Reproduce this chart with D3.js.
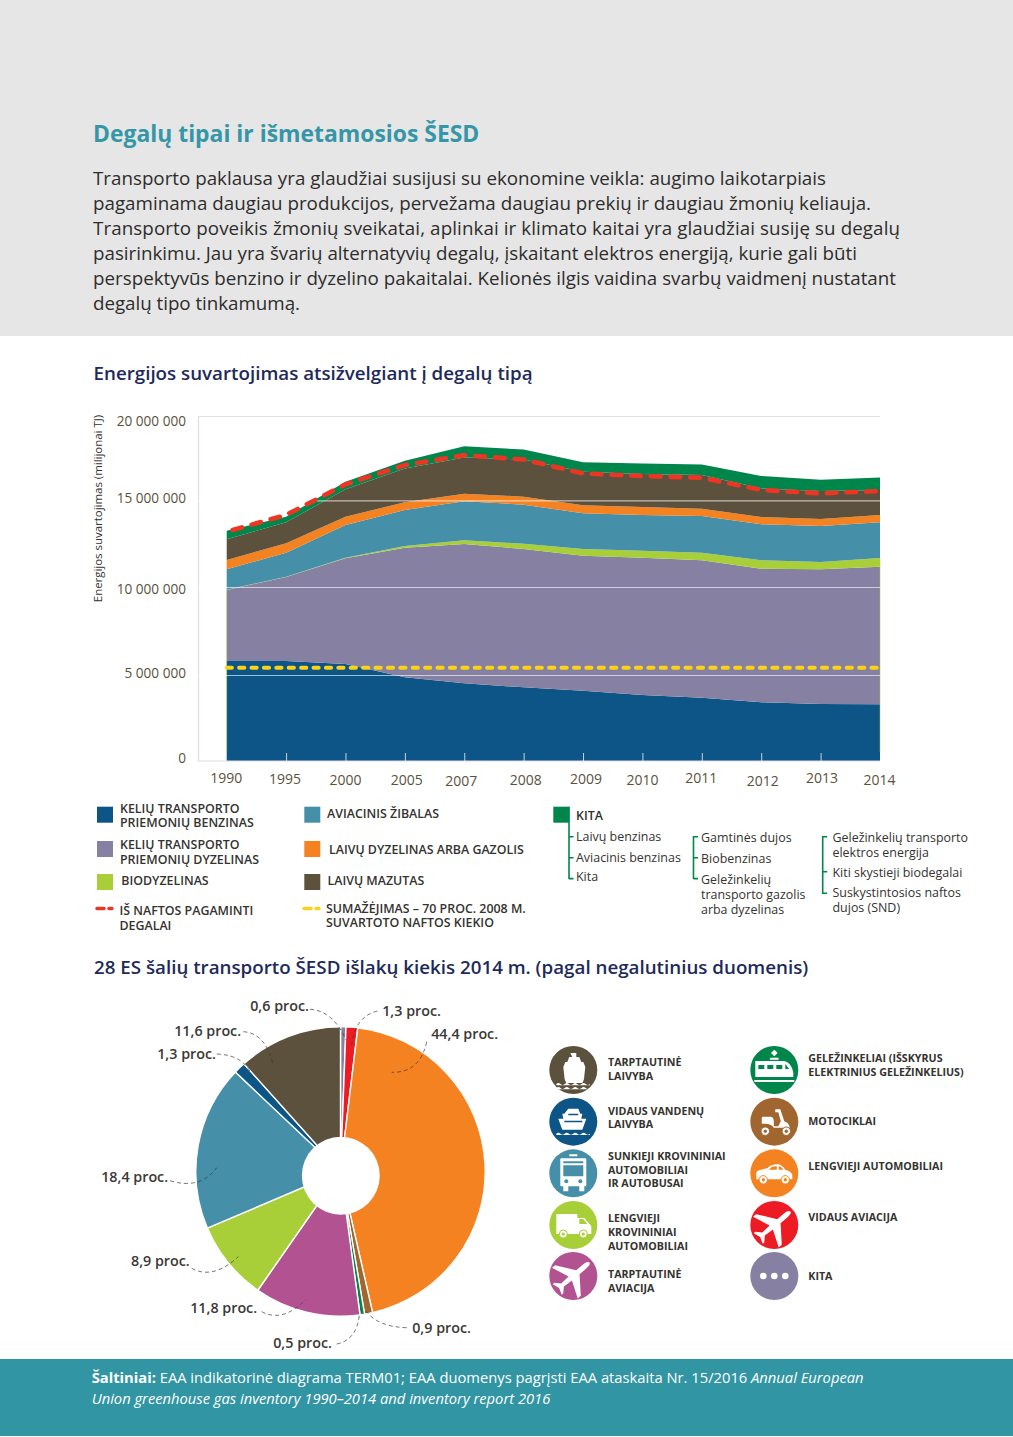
<!DOCTYPE html>
<html lang="lt">
<head>
<meta charset="utf-8">
<title>Degalų tipai ir išmetamosios ŠESD</title>
<script src="https://cdn.jsdelivr.net/npm/d3@7/dist/d3.min.js"></script>
<style>
html,body{margin:0;padding:0;background:#fff}
svg{display:block}
text{font-family:"Open Sans","Noto Sans",sans-serif}
</style>
</head>
<body>
<svg id="page" width="1013" height="1437" viewBox="0 0 1013 1437"></svg>
<script>
// ---------- chart data ----------
const years = ["1990","1995","2000","2005","2007","2008","2009","2010","2011","2012","2013","2014"];
const benzinas   = [5795000,5795000,5625000,4864000,4516000,4283000,4089000,3837000,3682000,3411000,3314000,3295000];
const dyzelinas  = [4035000,4782000,6029000,7405000,7965000,7909000,7719000,7855000,7856000,7647000,7705000,7878000];
const biodyzel   = [18000,19000,38000,96000,211000,308000,384000,404000,443000,480000,423000,500000];
const zibalas    = [1171000,1385000,1885000,2077000,2250000,2250000,2058000,2058000,2115000,2077000,2077000,2058000];
const laivuDyz   = [539000,538000,481000,443000,452000,467000,462000,461000,423000,423000,404000,423000];
const mazutas    = [1192000,1212000,1592000,2005000,2145000,2204000,1981000,1940000,1977000,1671000,1628000,1456000];
const kita       = [500000,327000,452000,453000,670000,591000,571000,630000,630000,728000,669000,748000];
const naftosDegalai = [13288000,14154000,15945000,17087000,17677000,17421000,16594000,16437000,16339000,15610000,15413000,15551000];
const sumazejimas   = [5417000,5417000,5417000,5417000,5417000,5417000,5417000,5417000,5417000,5417000,5417000,5417000];
const yTicks = [0,5000000,10000000,15000000,20000000];

const pieValues = [0.6,1.3,44.4,0.9,0.5,11.8,8.9,18.4,1.3,11.6];
const pieLabels = ["0,6 proc.","1,3 proc.","44,4 proc.","0,9 proc.","0,5 proc.","11,8 proc.","8,9 proc.","18,4 proc.","1,3 proc.","11,6 proc."];

// ---------- colours ----------
const C = {blue:"#0d5586",lav:"#8681a2",lime:"#a9cf38",teal:"#468fa8",orange:"#f58220",brown:"#5c513d",
           green:"#00864a",red:"#ee3524",yellow:"#fcd116",mag:"#b35290",rust:"#a1662f",pieRed:"#ed1c24",
           ink:"#333230",axis:"#5c513d",navy:"#1e2a5a",tealH:"#3496a6",band:"#3295a3"};
const areaColors = [C.blue,C.lav,C.lime,C.teal,C.orange,C.brown,C.green];
const pieColors  = [C.lav,C.pieRed,C.orange,C.rust,C.green,C.mag,C.lime,C.teal,C.blue,C.brown];

const svg = d3.select("#page");
function T(g,x,y,s,o={}){
  const t=g.append("text").attr("x",x).attr("y",y).text(s)
   .attr("font-size",o.size||13).attr("fill",o.fill||C.ink).attr("font-weight",o.weight||400);
  if(o.anchor)t.attr("text-anchor",o.anchor);
  return t;
}

// ---------- header ----------
svg.append("rect").attr("width",1013).attr("height",336).attr("fill","#e6e6e6");
T(svg,93,142,"Degalų tipai ir išmetamosios ŠESD",{size:22.9,fill:C.tealH,weight:700});
const intro=["Transporto paklausa yra glaudžiai susijusi su ekonomine veikla: augimo laikotarpiais",
"pagaminama daugiau produkcijos, pervežama daugiau prekių ir daugiau žmonių keliauja.",
"Transporto poveikis žmonių sveikatai, aplinkai ir klimato kaitai yra glaudžiai susiję su degalų",
"pasirinkimu. Jau yra švarių alternatyvių degalų, įskaitant elektros energiją, kurie gali būti",
"perspektyvūs benzino ir dyzelino pakaitalai. Kelionės ilgis vaidina svarbų vaidmenį nustatant",
"degalų tipo tinkamumą."];
const introWidth=[733,778,807,764,803,207];
intro.forEach((l,i)=>T(svg,93,185+i*25,l,{size:18.77,fill:"#2e2d2c"}).attr("textLength",introWidth[i]));
T(svg,93.5,380,"Energijos suvartojimas atsižvelgiant į degalų tipą",{size:18.75,fill:C.navy,weight:600});

// ---------- stacked area ----------
const x=d3.scalePoint().domain(years).range([226.7,880]);
// the printed axis is slightly uneven, so the scale follows its gridlines
const y=d3.scaleLinear().domain(yTicks).range([761,675,587,500.3,416]);
const rows=years.map((yr,i)=>({yr,a:benzinas[i],b:dyzelinas[i],c:biodyzel[i],d:zibalas[i],e:laivuDyz[i],f:mazutas[i],g:kita[i]}));
const series=d3.stack().keys(["a","b","c","d","e","f","g"])(rows);
const area=d3.area().x(d=>x(d.data.yr)).y0(d=>y(d[0])).y1(d=>y(d[1]));
const plot=svg.append("g");
plot.selectAll("path.layer").data(series).join("path").attr("class","layer")
  .attr("d",area).attr("fill",(d,i)=>areaColors[i]);
// thin olive edge on both ends of the stack
[years[0],years[years.length-1]].forEach(yr=>{
  const top=series[2].find(d=>d.data.yr===yr);
  plot.append("line").attr("x1",x(yr)).attr("x2",x(yr)).attr("y1",y(top[1])).attr("y2",752)
    .attr("stroke",C.lime).attr("stroke-width",0.7).attr("opacity",.7);
});
// gridlines on top of the areas
const yDy=[-4,-3,1,-3,4];
const yAxis=d3.axisLeft(y).tickValues(yTicks).tickSize(0).tickPadding(12)
  .tickFormat(v=>d3.format(",")(v).replace(/,/g," "));
const gy=svg.append("g").attr("transform","translate(198,0)").call(yAxis);
gy.select(".domain").attr("stroke","#dddbe8").attr("stroke-width",1.2);
gy.selectAll(".tick text").attr("font-size",13.6).attr("fill",C.axis)
  .attr("font-family","'Open Sans',sans-serif")
  .attr("dy",(d,i)=>(yDy[i]+5)+"px");
gy.selectAll(".tick line").attr("x1",0).attr("x2",682).attr("stroke","#ffffff")
  .attr("stroke-opacity",d=>d===0?0:.62).attr("stroke-width",1.2);
gy.selectAll(".tick").filter(d=>d===20000000).select("line").attr("stroke","#e2e0ec").attr("stroke-opacity",1);

const xDx=[-1,-1.5,-0.5,1.5,-3.5,1.5,2.5,-0.5,-1,1,1,-1];
const xDy=[0,1,2,2,3,2,1,2,0,3,0,2];
const xAxis=d3.axisBottom(x).tickSize(0).tickPadding(0);
const gx=svg.append("g").attr("transform","translate(0,761)").call(xAxis);
gx.select(".domain").attr("d","M198,0H880").attr("stroke","#dddbe8").attr("stroke-width",1.2);
gx.selectAll(".tick text").attr("font-size",14).attr("fill",C.axis)
  .attr("font-family","'Open Sans',sans-serif")
  .attr("x",(d,i)=>xDx[i]).attr("y",(d,i)=>12+xDy[i]).attr("dy","0.71em");
gx.selectAll(".tick line").attr("y1",-8).attr("y2",0).attr("stroke","#ffffff").attr("stroke-opacity",.75).attr("stroke-width",1)
  .filter((d,i)=>i===0).attr("stroke-opacity",0);

const ln=d3.line().x((d,i)=>x(years[i])).y(d=>y(d));
svg.append("path").attr("d",ln(sumazejimas)).attr("fill","none").attr("stroke",C.yellow)
  .attr("stroke-width",4).attr("stroke-linecap","round").attr("stroke-dasharray","5.2 7.2");
svg.append("path").attr("d",d3.line().x((d,i)=>i===0?x(years[0])+6:x(years[i])).y(d=>y(d))(naftosDegalai))
  .attr("fill","none").attr("stroke",C.red)
  .attr("stroke-width",4.6).attr("stroke-linecap","round").attr("stroke-dasharray","9.5 10.2");
T(svg,0,0,"Energijos suvartojimas (milijonai TJ)",{size:11.45,fill:C.ink,anchor:"middle"})
  .attr("transform","translate(102,508.5) rotate(-90)");

// ---------- legend ----------
const lg=svg.append("g");
const sw=(xp,yp,c)=>lg.append("rect").attr("x",xp).attr("y",yp).attr("width",16).attr("height",16).attr("fill",c);
const LB={size:12.4,weight:600,fill:"#35332f"};
sw(97,806.7,C.blue); T(lg,120,813,"KELIŲ TRANSPORTO",LB); T(lg,120,827,"PRIEMONIŲ BENZINAS",LB);
sw(97,841,C.lav);    T(lg,120,849,"KELIŲ TRANSPORTO",LB); T(lg,120,864,"PRIEMONIŲ DYZELINAS",LB);
sw(97,874,C.lime);   T(lg,121.3,885,"BIODYZELINAS",LB);
sw(304.3,806.7,C.teal); T(lg,327,818,"AVIACINIS ŽIBALAS",LB);
sw(304.3,841,C.orange); T(lg,329,854,"LAIVŲ DYZELINAS ARBA GAZOLIS",LB);
sw(304.3,874,C.brown);  T(lg,327.5,885,"LAIVŲ MAZUTAS",LB);
const dash=(x1,x2,yp,c)=>lg.append("line").attr("x1",x1).attr("x2",x2).attr("y1",yp).attr("y2",yp)
  .attr("stroke",c).attr("stroke-width",3.4).attr("stroke-linecap","round");
dash(97,104,908.5,C.red); dash(109,112,908.5,C.red);
dash(304,311,908.5,C.yellow); dash(316,319,908.5,C.yellow);
T(lg,119.5,915.3,"IŠ NAFTOS PAGAMINTI",LB); T(lg,119.5,930,"DEGALAI",LB);
T(lg,326,913,"SUMAŽĖJIMAS – 70 PROC. 2008 M.",LB); T(lg,326,927,"SUVARTOTO NAFTOS KIEKIO",LB);
sw(553.3,806.7,C.green); T(lg,576,820,"KITA",LB);
function bracket(xp,y0,y1,ticks,len){
  lg.append("path").attr("fill","none").attr("stroke",C.green).attr("stroke-width",1.6)
    .attr("d",`M${xp},${y0}V${y1}`+ticks.map(t=>`M${xp},${t}h${len}`).join(""));
}
bracket(569,806.7,879,[836.7,857.7,878.6],4.5);
bracket(693.5,836,879,[836.7,857.7,878.6],4.5);
bracket(822.7,836,894,[836.7,871.7,893.3],4.5);
const LS={size:12.45,fill:"#35332f"};
[["Laivų benzinas",840.7],["Aviacinis benzinas",861.7],["Kita",880.7]].forEach(a=>T(lg,576,a[1],a[0],LS));
[["Gamtinės dujos",842.3],["Biobenzinas",863],["Geležinkelių",884],["transporto gazolis",898.7],["arba dyzelinas",914]].forEach(a=>T(lg,701,a[1],a[0],LS));
[["Geležinkelių transporto",841.7],["elektros energija",856.7],["Kiti skystieji biodegalai",877.3],["Suskystintosios naftos",896.7],["dujos (SND)",911.7]].forEach(a=>T(lg,832.5,a[1],a[0],LS));

T(svg,94,974,"28 ES šalių transporto ŠESD išlakų kiekis 2014 m. (pagal negalutinius duomenis)",{size:18.75,fill:C.navy,weight:600});

// ---------- pie ----------
const cx=340.5, cy=1171.5, R=144.7;
const pie=d3.pie().sort(null).value(d=>d)(pieValues);
const arc=d3.arc().innerRadius(0).outerRadius(R);
const gp=svg.append("g").attr("transform",`translate(${cx},${cy})`);
gp.selectAll("path").data(pie).join("path").attr("d",arc)
  .attr("fill",(d,i)=>pieColors[i]).attr("stroke","#fff").attr("stroke-width",1.4);
svg.append("circle").attr("cx",340.8).attr("cy",1175.7).attr("r",39).attr("fill","#fff");

const labelPos=[[250.2,1011],[382.2,1016],[431.2,1039],[412.2,1332.7],[273.2,1348],[190.2,1313],[131,1266],[101.2,1182],[157.2,1059],[174.2,1035.7]];
const leaders=[[310,1009.3,333,1010.7,346,1040],[377.3,1011,355,1016.7,351.7,1045],[426.7,1041.7,420,1073,391.7,1072.3],
 [406.7,1327.7,378,1326.7,366.7,1311.7],[336.7,1344,356.7,1340,359.3,1315],[261.7,1311.7,283,1323,306,1299.3],
 [191.7,1268.3,213,1280,238.3,1256.7],[170,1180.7,200,1190,216.7,1167.7],[216.7,1054,246.7,1055,253.3,1080],[243.3,1031.7,265,1033,272.7,1063.3]];
leaders.forEach(l=>{
  const p=d3.path(); p.moveTo(l[0],l[1]); p.quadraticCurveTo(l[2],l[3],l[4],l[5]);
  svg.append("path").attr("d",p.toString()).attr("fill","none").attr("stroke","#3a3a3a")
    .attr("stroke-width",0.7).attr("stroke-dasharray","4 3");
});
pieLabels.forEach((s,i)=>T(svg,labelPos[i][0],labelPos[i][1],s,{size:14.3,weight:600,fill:"#3b3936"}));

// ---------- icon legend ----------
const iconRows=[1070,1121.7,1173.3,1225,1276];
function icon(cxp,cyp,col,draw){
  const g=svg.append("g").attr("transform",`translate(${cxp},${cyp})`);
  g.append("circle").attr("r",24).attr("fill",col);
  const w=g.append("g").attr("fill","#fff");
  draw(w);
}
const P=(g,d,o={})=>g.append("path").attr("d",d).attr("fill",o.fill||"#fff").attr("stroke",o.stroke||"none").attr("stroke-width",o.sw||0);
const wheel=(g,xp,yp,r,c)=>{g.append("circle").attr("cx",xp).attr("cy",yp).attr("r",r).attr("fill","#fff").attr("stroke",c).attr("stroke-width",1);g.append("circle").attr("cx",xp).attr("cy",yp).attr("r",r*.4).attr("fill",c)};
const plane="M0,-21 C2,-21 2.6,-18 2.6,-14 L2.6,-6 L20,7 L20,11 L2.6,4 L2,14 L7,19 L7,21 L0,18.5 L-7,21 L-7,19 L-2,14 L-2.6,4 L-20,11 L-20,7 L-2.6,-6 L-2.6,-14 C-2.6,-18 -2,-21 0,-21 Z";
const waves2=(g,yp)=>P(g,`M-17,${yp}q2.1,-2 4.2,0t4.2,0t4.2,0t4.2,0t4.2,0t4.2,0t4.2,0t4.2,0v1.3h-33.6z`);

icon(573.3,iconRows[0],C.brown,g=>{
  P(g,"M-3,-17h6v4h3l2,5h2l2,5l-1,9c0,3 -1,5 -2,7h-16c-1,-2 -2,-4 -2,-7l-1,-9l2,-5h2l2,-5h3z");
  waves2(g,14); waves2(g,18);
});
icon(573.3,iconRows[1],C.blue,g=>{
  P(g,"M-5,-13h10l2,5h2l-1,5h5l-4,11h-20l-4,-11h5l-1,-5h2z");
  P(g,"M-5,-8h10v1.5h-10zM-9,-1h18v1.5h-18z",{fill:C.blue});
  waves2(g,12);
});
icon(573.3,iconRows[2],C.teal,g=>{
  P(g,"M-4,-19h8v2h-8zM-12,-15h24a1,1 0 0 1 1,1v26a1,1 0 0 1 -1,1h-1v5h-5v-5h-11v5h-5v-5h-2a1,1 0 0 1 -1,-1v-26a1,1 0 0 1 1,-1z");
  P(g,"M-10,-12h20v2h-20zM-10,-8h20v11h-20z",{fill:C.teal});
  g.append("circle").attr("cx",-7).attr("cy",8).attr("r",2).attr("fill",C.teal);
  g.append("circle").attr("cx",7).attr("cy",8).attr("r",2).attr("fill",C.teal);
});
icon(573.3,iconRows[3],C.lime,g=>{
  P(g,"M-17,-11h21v4h7l7,8v8h-35z");
  P(g,"M6,-6h4l4,5h-8z",{fill:C.lime});
  wheel(g,-10,9,4,C.lime); wheel(g,10,9,4,C.lime);
});
icon(573.3,iconRows[4],C.mag,g=>{P(g,plane).attr("transform","rotate(50)")});
icon(774.3,iconRows[0],C.green,g=>{
  P(g,"M-3,-17l3,-3l3,3l-3,3z M-4,-12h8v1.5h-8z",{stroke:"#fff",sw:.6});
  P(g,"M-19,-9h28c5,0 9,5 10,12v4h-38z");
  P(g,"M-16,-5h6v4h-6zM-7,-5h6v4h-6zM2,-5h6v4h-6zM11,-6l4,5h-4z",{fill:C.green});
  P(g,"M-20,10h40v2h-40z");
});
icon(774.3,iconRows[1],C.rust,g=>{
  P(g,"M-13,-5h9c2.5,0 3.5,2 3.5,4.5v5h4.5l2.5,-5l-2.5,-9h-3v-3h5l4,12c3,1 5,3 5.5,6.5h-16c-2,-3 -5,-4 -8,-4l-2,0h-2v-4.5c0,-2 0,-2.5 1.5,-2.5z");
  wheel(g,-9,9.5,4.2,C.rust); wheel(g,12,9.5,4.2,C.rust);
});
icon(774.3,iconRows[2],C.orange,g=>{
  P(g,"M-18,6v-6c0,-3 4,-3.5 11,-5c3,-3 6,-4 10,-4c3,0 6,2 8,5.5c3,1 6,2 7,5v4.5z");
  P(g,"M-3,-6c2,-1 3.5,-1 5.5,-1v3.5h-8zM4.5,-7c2,0 3.5,2 4.5,3.5h-4.5z",{fill:C.orange});
  wheel(g,-11,6.5,4.2,C.orange); wheel(g,11,6.5,4.2,C.orange);
});
icon(774.3,iconRows[3],C.pieRed,g=>{P(g,plane).attr("transform","rotate(50)")});
icon(774.3,iconRows[4],C.lav,g=>{[-11,0,11].forEach(d=>g.append("circle").attr("cx",d).attr("r",3.3))});

const IL={size:10.7,weight:700,fill:"#35332f"};
[[608,1066,"TARPTAUTINĖ"],[608,1080,"LAIVYBA"],[608,1115,"VIDAUS VANDENŲ"],[608,1128,"LAIVYBA"],
 [608,1160,"SUNKIEJI KROVININIAI"],[608,1174,"AUTOMOBILIAI"],[608,1187,"IR AUTOBUSAI"],
 [608,1222,"LENGVIEJI"],[608,1236,"KROVININIAI"],[608,1249.5,"AUTOMOBILIAI"],
 [608,1278,"TARPTAUTINĖ"],[608,1292,"AVIACIJA"],
 [808.3,1062,"GELEŽINKELIAI (IŠSKYRUS"],[808.3,1076,"ELEKTRINIUS GELEŽINKELIUS)"],
 [808.3,1124.5,"MOTOCIKLAI"],[808.3,1170,"LENGVIEJI AUTOMOBILIAI"],[808.3,1221,"VIDAUS AVIACIJA"],[808.3,1279.5,"KITA"]]
 .forEach(a=>T(svg,a[0],a[1],a[2],IL));

// ---------- footer ----------
svg.append("rect").attr("y",1359).attr("width",1013).attr("height",77).attr("fill",C.band);
const f1=T(svg,91.7,1383,"",{size:14.74,fill:"#fff"});
f1.append("tspan").attr("font-weight",700).text("Šaltiniai: ");
f1.append("tspan").text("EAA indikatorinė diagrama TERM01; EAA duomenys pagrįsti EAA ataskaita Nr. 15/2016 ");
f1.append("tspan").attr("font-style","italic").text("Annual European");
T(svg,91.7,1404,"Union greenhouse gas inventory 1990–2014 and inventory report 2016",{size:14.72,fill:"#fff"}).attr("font-style","italic");
</script>
</body>
</html>
